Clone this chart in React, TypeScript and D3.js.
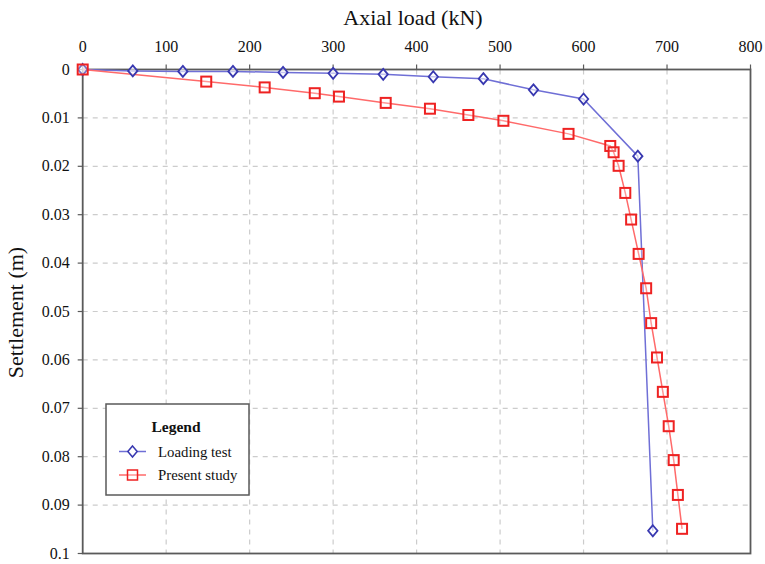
import React from "react";
import * as d3 from "d3";

const xTicks = [0, 100, 200, 300, 400, 500, 600, 700, 800];
const yTicks = [0, 0.01, 0.02, 0.03, 0.04, 0.05, 0.06, 0.07, 0.08, 0.09, 0.1];
const yTickLabels = ["0", "0.01", "0.02", "0.03", "0.04", "0.05", "0.06", "0.07", "0.08", "0.09", "0.1"];

const loadTestLoad = [0, 60, 120, 180, 240, 300, 360, 420, 480, 540, 600, 665, 683];
const loadTestSettle = [0, 0.0003, 0.0004, 0.0004, 0.0006, 0.0008, 0.001, 0.0015, 0.0019, 0.0042, 0.0061, 0.0179, 0.0953];

const presentLoad = [0, 148, 218, 278, 307, 363, 416, 462, 504, 582, 632, 636, 642, 650, 657, 666, 675, 681, 688, 695, 702, 708, 713, 718];
const presentSettle = [0, 0.0025, 0.0037, 0.0049, 0.0056, 0.0069, 0.0081, 0.0094, 0.0106, 0.0133, 0.0158, 0.0171, 0.0199, 0.0255, 0.031, 0.0381, 0.0452, 0.0524, 0.0595, 0.0666, 0.0737, 0.0807, 0.0879, 0.0949];

const W = 765, H = 564;
const left = 82.7, right = 750.5, top = 69.5, bottom = 553.5;
const FONT = "'Liberation Serif', 'Times New Roman', serif";

export default function App() {
  const x = d3.scaleLinear().domain([0, 800]).range([left, right]);
  const y = d3.scaleLinear().domain([0, 0.1]).range([top, bottom]);
  const line = d3.line<[number, number]>().x(d => x(d[0])).y(d => y(d[1]));
  const lt: [number, number][] = loadTestLoad.map((v, i) => [v, loadTestSettle[i]]);
  const ps: [number, number][] = presentLoad.map((v, i) => [v, presentSettle[i]]);
  const blueLine = "#6f6fd6";
  const blueMark = "#3838b0";
  const redLine = "#ff6a6a";
  const redMark = "#ee2222";
  const diamond = (cx: number, cy: number, r = 5.5) =>
    `M${cx},${cy - r}L${cx + r * 0.85},${cy}L${cx},${cy + r}L${cx - r * 0.85},${cy}Z`;
  const sq = 10;
  return (
    <svg width={W} height={H} style={{ position: "absolute", left: 0, top: 0, background: "#fff" }}>
      <rect x={0} y={0} width={W} height={H} fill="#fff" />
      {xTicks.slice(1, -1).map(t => (
        <line key={"gx" + t} x1={x(t)} x2={x(t)} y1={top} y2={bottom} stroke="#cccccc" strokeDasharray="5,5" strokeWidth={1.2} />
      ))}
      {yTicks.slice(1, -1).map(t => (
        <line key={"gy" + t} x1={left} x2={right} y1={y(t)} y2={y(t)} stroke="#cccccc" strokeDasharray="5,5" strokeWidth={1.2} />
      ))}
      <rect x={left} y={top} width={right - left} height={bottom - top} fill="none" stroke="#5a5a5a" strokeWidth={1.8} />
      {xTicks.map(t => (
        <g key={"xt" + t}>
          <line x1={x(t)} x2={x(t)} y1={top} y2={top - 5} stroke="#5a5a5a" strokeWidth={1.2} />
          <text x={x(t)} y={52} textAnchor="middle" fontFamily={FONT} fontSize={16} fill="#111">{t}</text>
        </g>
      ))}
      {yTicks.map((t, i) => (
        <g key={"yt" + t}>
          <line x1={left} x2={left - 5} y1={y(t)} y2={y(t)} stroke="#5a5a5a" strokeWidth={1.2} />
          <text x={left - 13} y={y(t) + 5} textAnchor="end" fontFamily={FONT} fontSize={16} fill="#111">{yTickLabels[i]}</text>
        </g>
      ))}
      <text x={413} y={25} textAnchor="middle" fontFamily={FONT} fontSize={22} fill="#111">Axial load (kN)</text>
      <text transform={`translate(23,${(top + bottom) / 2 + 1}) rotate(-90)`} textAnchor="middle" fontFamily={FONT} fontSize={22} fill="#111">Settlement (m)</text>
      <path d={line(lt) || ""} fill="none" stroke={blueLine} strokeWidth={1.5} />
      <path d={line(ps) || ""} fill="none" stroke={redLine} strokeWidth={1.5} />
      {lt.map((d, i) => (
        <path key={"d" + i} d={diamond(x(d[0]), y(d[1]))} fill="#fff" fillOpacity={0.6} stroke={blueMark} strokeWidth={1.8} />
      ))}
      {ps.map((d, i) => (
        <rect key={"s" + i} x={x(d[0]) - sq / 2} y={y(d[1]) - sq / 2} width={sq} height={sq} fill="#fff" fillOpacity={0.3} stroke={redMark} strokeWidth={2} />
      ))}
      <rect x={106} y={404} width={143} height={91} fill="#fff" stroke="#5a5a5a" strokeWidth={1.5} />
      <text x={176} y={432} textAnchor="middle" fontFamily={FONT} fontSize={15.5} fontWeight="bold" fill="#111">Legend</text>
      <line x1={119} x2={146} y1={451.5} y2={451.5} stroke={blueLine} strokeWidth={1.5} />
      <path d={diamond(132.5, 451.5)} fill="#fff" stroke={blueMark} strokeWidth={1.5} />
      <text x={158} y={456.5} fontFamily={FONT} fontSize={14.8} fill="#111">Loading test</text>
      <line x1={119} x2={146} y1={475} y2={475} stroke={redLine} strokeWidth={1.5} />
      <rect x={132.5 - 5} y={470} width={10} height={10} fill="#fff" fillOpacity={0.3} stroke={redMark} strokeWidth={1.5} />
      <text x={158} y={480} fontFamily={FONT} fontSize={14.8} fill="#111">Present study</text>
    </svg>
  );
}
